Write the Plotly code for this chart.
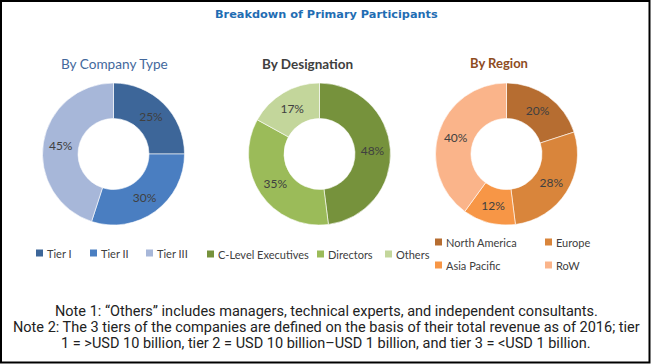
import plotly.graph_objects as go

W, H = 651, 364

# ---- data ----
company_labels = ["Tier I", "Tier II", "Tier III"]
company_values = [25, 30, 45]
designation_labels = ["C-Level Executives", "Directors", "Others"]
designation_values = [48, 35, 17]
region_labels = ["North America", "Europe", "Asia Pacific", "RoW"]
region_values = [20, 28, 12, 40]

# ---- styles ----
company_colors = ["#3D6699", "#4A7EC1", "#A7B7D9"]
designation_colors = ["#76923C", "#9BBB59", "#C3D69B"]
region_colors = ["#B66D31", "#D9853B", "#F79646", "#FAB48A"]

def px(x):
    return x / W

def py(y):
    return 1 - y / H

R = 71
pies = [
    (company_labels, company_values, company_colors, 113.5),
    (designation_labels, designation_values, designation_colors, 319.5),
    (region_labels, region_values, region_colors, 506.5),
]
cy = 154

fig = go.Figure()
for labels, values, colors, cx in pies:
    fig.add_trace(go.Pie(
        labels=labels, values=values, hole=0.5, sort=False,
        direction="clockwise", rotation=0,
        marker=dict(colors=colors, line=dict(color="white", width=0.6)),
        texttemplate="%{value}%", textposition="inside",
        insidetextorientation="horizontal",
        textfont=dict(family="Lato, Open Sans, sans-serif", size=12, color="#404040"),
        domain=dict(x=[px(cx - R), px(cx + R)], y=[py(cy + R), py(cy - R)]),
        showlegend=False, hoverinfo="label+percent",
    ))

annotations = [
    dict(text="<b>Breakdown of Primary Participants</b>", x=px(326), y=py(15),
         font=dict(family="DejaVu Sans, Verdana, sans-serif", size=11.3, color="#1F6DB3")),
    dict(text="By Company Type", x=px(114), y=py(64),
         font=dict(family="Lato, Open Sans, sans-serif", size=13.6, color="#43689C")),
    dict(text="<b>By Designation</b>", x=px(307), y=py(64),
         font=dict(family="Lato, Open Sans, sans-serif", size=13.5, color="#404040")),
    dict(text="<b>By Region</b>", x=px(499), y=py(63),
         font=dict(family="Lato, Open Sans, sans-serif", size=13, color="#8E4C1E")),
]
for a in annotations:
    a.update(xref="paper", yref="paper", showarrow=False, xanchor="center", yanchor="middle")

shapes = []

def legend_item(label, color, x, y, size=11, fam="Lato, Open Sans, sans-serif"):
    s = 7
    shapes.append(dict(type="rect", xref="paper", yref="paper",
                       x0=px(x), x1=px(x + s), y0=py(y + s / 2), y1=py(y - s / 2),
                       fillcolor=color, line=dict(width=0)))
    annotations.append(dict(text=label, xref="paper", yref="paper", x=px(x + s + 2), y=py(y),
                            xanchor="left", yanchor="middle", showarrow=False,
                            font=dict(family=fam, size=size, color="#404040")))

legend_pos = [
    [(36, 253), (90, 253), (146, 253)],
    [(207, 254), (317, 254), (385, 254)],
    [(435, 242), (545, 242), (435, 265), (545, 265)],
]
for (labels, values, colors, cx), positions in zip(pies, legend_pos):
    for lab, col, (x, y) in zip(labels, colors, positions):
        legend_item(lab, col, x, y, size=11)

notes = [
    "Note 1: \u201cOthers\u201d includes managers, technical experts, and independent consultants.",
    "Note 2: The 3 tiers of the companies are defined on the basis of their total revenue as of 2016; tier",
    "1 = >USD 10 billion, tier 2 = USD 10 billion\u2013USD 1 billion, and tier 3 = <USD 1 billion.",
]
for i, line in enumerate(notes):
    annotations.append(dict(text=line, xref="paper", yref="paper", x=px(326), y=py(311 + 16 * i),
                            xanchor="center", yanchor="middle", showarrow=False,
                            font=dict(family="Liberation Sans Narrow, Roboto, sans-serif",
                                      size=14.5, color="#222222")))

# outer border
shapes.append(dict(type="rect", xref="paper", yref="paper",
                   x0=px(1), x1=px(649.5), y0=py(362.5), y1=py(1),
                   line=dict(color="black", width=2), fillcolor="rgba(0,0,0,0)"))

fig.update_layout(
    width=W, height=H, margin=dict(l=0, r=0, t=0, b=0),
    paper_bgcolor="white", plot_bgcolor="white",
    annotations=annotations, shapes=shapes,
)

fig.write_html("out.html", config={"displayModeBar": False},
               post_script="document.body.style.margin='0';document.body.style.overflow='hidden';")
